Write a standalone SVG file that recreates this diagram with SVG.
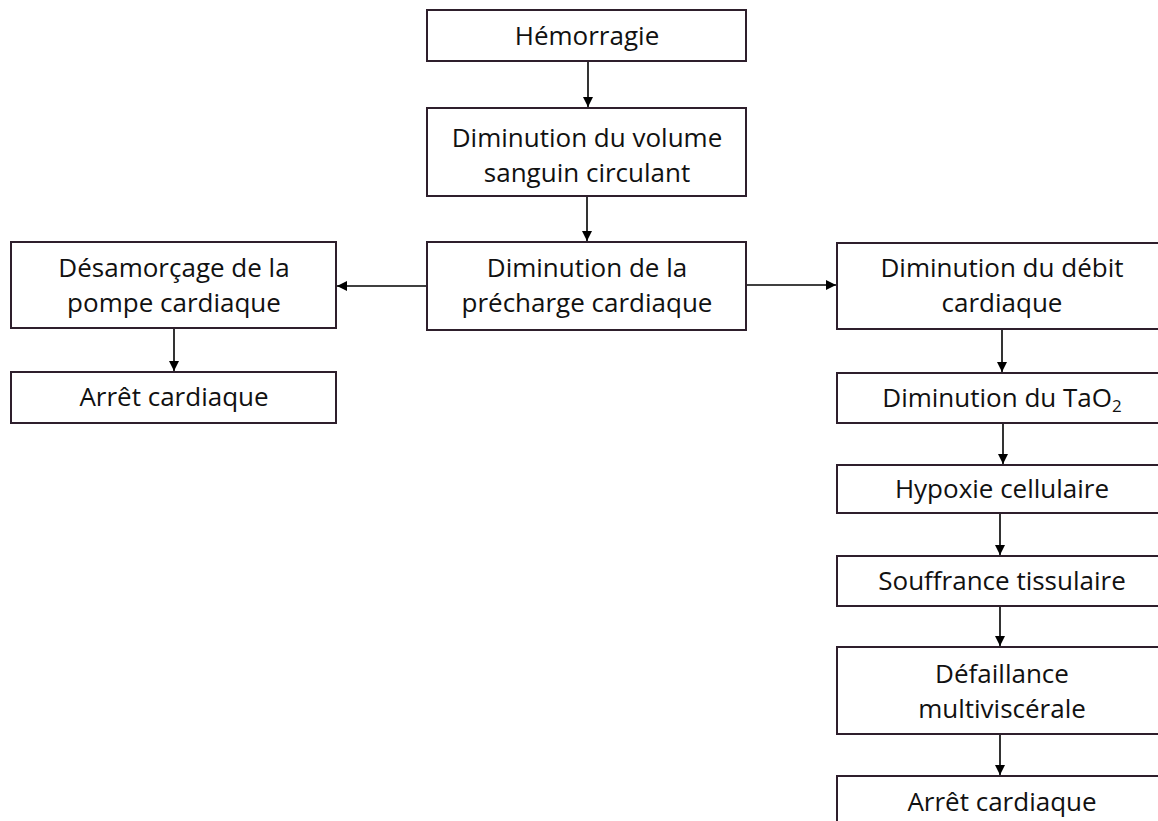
<svg xmlns="http://www.w3.org/2000/svg" width="1158" height="821" viewBox="0 0 1158 821">
<defs>
<style>
.box{fill:#ffffff;stroke:#2e1f2c;stroke-width:2}
.t{font-family:"Open Sans","Liberation Sans",sans-serif;font-size:26px;fill:#111111;text-anchor:middle}
.c{stroke:#000000;stroke-width:1.6;fill:none;marker-end:url(#ah)}
</style>
<marker id="ah" markerUnits="userSpaceOnUse" markerWidth="12" markerHeight="10" refX="10" refY="5" orient="auto">
<path d="M0,0 L10,5 L0,10 Z" fill="#000000"/>
</marker>
</defs>
<rect width="1158" height="821" fill="#ffffff"/>
<g id="connectors">
<line class="c" x1="588" y1="61" x2="588" y2="107"/>
<line class="c" x1="587" y1="196" x2="587" y2="241"/>
<line class="c" x1="427" y1="286" x2="337" y2="286"/>
<line class="c" x1="746" y1="285" x2="836" y2="285"/>
<line class="c" x1="174" y1="328" x2="174" y2="371"/>
<line class="c" x1="1002" y1="329" x2="1002" y2="372"/>
<line class="c" x1="1003" y1="423" x2="1003" y2="464"/>
<line class="c" x1="1000" y1="513" x2="1000" y2="555"/>
<line class="c" x1="1000" y1="606" x2="1000" y2="646"/>
<line class="c" x1="1000" y1="734" x2="1000" y2="775"/>
</g>
<g id="n_hemorragie">
<rect class="box" x="427" y="10" width="319" height="51"/>
<text class="t" x="587" y="45">Hémorragie</text>
</g>
<g id="n_volume">
<rect class="box" x="427" y="108" width="319" height="88"/>
<text class="t" x="587" y="147">Diminution du volume</text>
<text class="t" x="587" y="182">sanguin circulant</text>
</g>
<g id="n_precharge">
<rect class="box" x="427" y="242" width="319" height="88"/>
<text class="t" x="587" y="277">Diminution de la</text>
<text class="t" x="587" y="312">précharge cardiaque</text>
</g>
<g id="n_desamorcage">
<rect class="box" x="11" y="242" width="325" height="86"/>
<text class="t" x="174" y="277">Désamorçage de la</text>
<text class="t" x="174" y="312">pompe cardiaque</text>
</g>
<g id="n_arret1">
<rect class="box" x="11" y="372" width="325" height="51"/>
<text class="t" x="174" y="406">Arrêt cardiaque</text>
</g>
<g id="n_debit">
<rect class="box" x="837" y="243" width="330" height="86"/>
<text class="t" x="1002" y="277">Diminution du débit</text>
<text class="t" x="1002" y="312">cardiaque</text>
</g>
<g id="n_tao2">
<rect class="box" x="837" y="373" width="330" height="50"/>
<text class="t" x="1002" y="407">Diminution du TaO<tspan font-size="17" dy="5">2</tspan></text>
</g>
<g id="n_hypoxie">
<rect class="box" x="837" y="465" width="330" height="48"/>
<text class="t" x="1002" y="498">Hypoxie cellulaire</text>
</g>
<g id="n_souffrance">
<rect class="box" x="837" y="556" width="330" height="50"/>
<text class="t" x="1002" y="590">Souffrance tissulaire</text>
</g>
<g id="n_defaillance">
<rect class="box" x="837" y="647" width="330" height="87"/>
<text class="t" x="1002" y="683">Défaillance</text>
<text class="t" x="1002" y="718">multiviscérale</text>
</g>
<g id="n_arret2">
<rect class="box" x="837" y="776" width="330" height="52"/>
<text class="t" x="1002" y="811">Arrêt cardiaque</text>
</g>
</svg>
